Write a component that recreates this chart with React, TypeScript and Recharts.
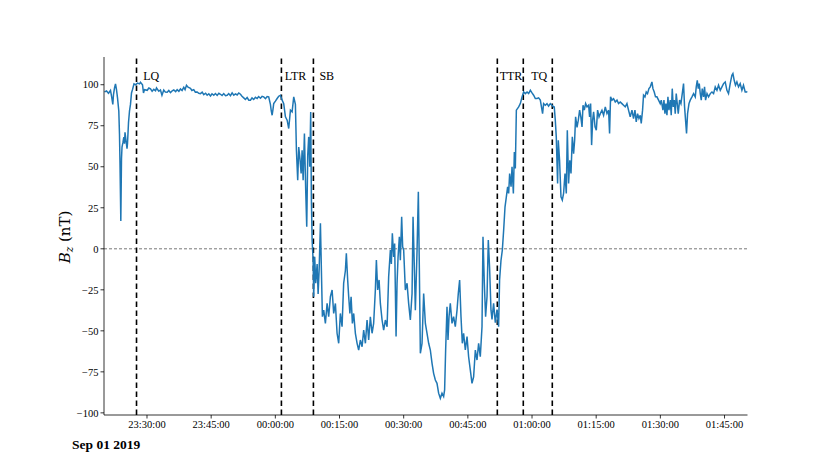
import React from 'react';
import { LineChart, Line, XAxis, YAxis, ReferenceLine, ReferenceDot } from 'recharts';

// time in minutes after 2019-09-01 23:00:00, Bz in nT
const leadInSamples: [number, number][] = [
  [20.07, 95.6], [20.54, 96.2], [21.0, 94.8], [21.47, 96.5], [21.71, 93], [22.01, 88], [22.17, 94], [22.41, 98],
  [22.64, 100.5], [22.87, 97], [23.11, 92], [23.41, 84], [23.57, 70], [23.69, 52], [23.88, 17], [24.04, 55],
  [24.16, 62], [24.39, 65], [24.58, 68], [24.74, 64], [24.86, 71], [25.09, 66], [25.33, 61], [25.44, 64],
  [25.68, 77], [25.91, 84], [26.14, 88], [26.38, 95], [26.61, 97], [26.96, 100.5], [27.31, 100], [27.78, 101],
  [28.25, 100.5], [28.48, 101.5], [28.95, 100], [29.18, 95], [29.42, 97], [30.05, 96.6], [30.44, 98], [30.82, 97.5],
  [31.2, 96], [31.59, 97.2], [32.0, 96.3], [32.22, 98], [32.76, 96], [33.15, 96.8], [33.5, 93.6], [33.92, 96.8],
  [34.3, 95.5], [34.72, 95.4], [35.1, 96.5], [35.49, 95.2], [35.9, 96.3], [36.26, 96.8], [36.7, 95.8], [37.05, 97],
  [37.45, 96], [37.83, 97.4], [38.2, 96.5], [38.6, 98.4], [38.9, 97], [39.23, 99.7], [39.6, 98.5], [40.16, 97.8],
  [40.5, 96.5], [40.93, 97], [41.3, 95.5], [41.73, 95.6], [42.1, 94.8], [42.5, 94.6], [42.9, 95.5], [43.27, 94],
  [43.7, 94.8], [44.06, 93.6], [44.45, 94.5], [44.84, 93.2], [45.2, 94.5], [45.61, 93.6], [46.0, 94.6], [46.4, 93.5],
  [46.8, 94.8], [47.17, 94.2], [47.55, 93.4], [47.94, 94.6], [48.35, 93.3], [48.74, 93.6], [49.1, 94.6], [49.51, 93.3],
  [49.9, 95], [50.28, 93.6], [50.7, 94.4], [51.07, 93.8], [51.45, 95], [51.85, 94.2], [52.2, 93], [52.62, 92],
  [53.0, 91], [53.41, 92.2], [53.8, 90.6], [54.18, 90.6], [54.55, 92], [54.95, 91], [55.35, 92.3], [55.75, 91.6],
  [56.1, 92.8], [56.52, 91.8], [56.9, 92.9], [57.29, 92.6], [57.7, 91.5], [58.08, 92.8], [58.45, 92.6], [58.85, 88],
  [59.05, 84], [59.25, 81.4], [59.45, 85], [59.62, 88.5], [60.02, 90], [60.42, 91.6], [60.79, 93], [61.19, 93.6],
  [61.59, 90.6],
];

const stretchSamples: [number, number][] = [
  [61.96, 88.5], [62.36, 80.4], [62.76, 78.4], [63.13, 73.3], [63.53, 84.5], [63.92, 83.5], [64.3, 92.6], [64.69, 88],
  [64.93, 60], [65.23, 41.8], [65.47, 62], [65.75, 55], [66.03, 45.9], [66.26, 60], [66.5, 41.8], [66.8, 70.3],
  [67.1, 35.7], [67.34, 13.4], [67.57, 57], [67.8, 68.2], [68.04, 50], [68.27, 83.4], [68.43, 29.7], [68.6, 5.3],
  [68.83, -6.9], [68.97, -29.2], [69.2, -4.9], [69.44, -21], [69.77, -9.3], [70.0, -27.6], [70.23, -13.4], [70.54, 15.5],
  [70.77, -13.4], [71.0, -41.4], [71.31, -37.4], [71.7, -45.5], [72.1, -33.3], [72.47, -41.4], [72.87, -29.2], [73.27, -25.1],
  [73.64, -39.4], [74.04, -33.3], [74.43, -51.5], [74.81, -57.6], [75.2, -39.4], [75.6, -47.5], [75.97, -21], [76.37, -13.4],
  [76.6, -2.8], [76.91, -19], [77.15, -29.2], [77.43, -39.4], [77.71, -29.2], [78.01, -45.5], [78.32, -39.4], [78.71, -51.5],
  [79.11, -57.6], [79.48, -61.7], [79.88, -55.6], [80.28, -59.7], [80.65, -49.5], [81.05, -57.6], [81.44, -43.4], [81.82, -55.6],
  [82.21, -41.4], [82.61, -51.5], [82.98, -45.5], [83.38, -25.1], [83.62, -6.9], [83.92, -25.1], [84.25, -19], [84.55, -33.3],
  [84.95, -43.4], [85.32, -49.5], [85.72, -43.4], [86.12, -47.5], [86.49, -17], [86.89, -0.8], [87.12, -9.3], [87.35, 9.4],
  [87.66, -4.9], [87.89, 3.2], [88.22, -53.5], [88.45, -21], [88.69, -4.9], [88.99, 7.3], [89.22, -6.9], [89.53, 19.5],
  [89.76, 1.2], [90.0, -0.8], [90.39, -25.1], [90.79, -21], [91.16, -33.3], [91.56, -43.4], [91.96, -27.2], [92.19, 19.5],
  [92.43, -4.9], [92.73, -37.4], [93.13, -0.8], [93.43, 34.7], [93.66, -11.4], [93.9, -63.7], [94.29, -57.6], [94.67, -27.2],
  [95.07, -45.5], [95.46, -51.5], [95.84, -57.6], [96.23, -61.7], [96.63, -69.8], [97.0, -75.9], [97.4, -80], [97.79, -82],
  [98.17, -88], [98.57, -91.1], [98.96, -88], [99.34, -90], [99.57, -86], [99.81, -61.7], [100.13, -35.3], [100.36, -55.6],
  [100.6, -41.4], [100.9, -33.3], [101.3, -45.5], [101.67, -41.4], [102.07, -47.5], [102.47, -37.4], [102.77, -27.2], [103.08, -19],
  [103.4, -41.4], [103.71, -57.6], [104.01, -51.5], [104.41, -61.7], [104.81, -53.5], [105.18, -65.8], [105.58, -73.9], [105.97, -82],
  [106.35, -78], [106.75, -61.7], [107.14, -67.8], [107.52, -57.6], [107.91, -65.8], [108.31, -47.5], [108.54, 7.3], [108.85, -21],
  [109.15, -41.4], [109.48, -29.2], [109.78, 5.3], [110.08, -11.4], [110.41, -37.4], [110.65, -43], [111.02, -33.3], [111.42, -45],
  [111.82, -37], [112.19, -47.5], [112.42, -19], [112.75, -7], [113.06, -0.8], [113.37, 11.4], [113.69, 25.6], [114.0, 31.7],
  [114.3, 37.8], [114.54, 33.7], [114.77, 45.9], [115.1, 37.8], [115.33, 50], [115.64, 33.7], [115.87, 59], [116.1, 49],
  [116.34, 84.5], [116.88, 86.5], [117.27, 88.5], [117.67, 92.6], [118.04, 95.6], [118.44, 94.6], [118.84, 95.6], [119.21, 94.6],
  [119.61, 96.6], [120.0, 95], [120.38, 93.6], [120.77, 91.6], [121.17, 91.6], [121.54, 92], [121.94, 90.6], [122.47, 82.4],
  [122.71, 88.5], [123.11, 87.5], [123.5, 88.5], [123.87, 87], [124.27, 88.5], [124.67, 87.5], [125.04, 86.5],
];

const recoverySamples: [number, number][] = [
  [125.2, 86.5], [125.44, 78.4], [125.67, 68.2], [125.98, 39.8], [126.14, 66.2], [126.44, 54], [126.77, 31.7], [127.08, 29.7],
  [127.38, 33.7], [127.71, 45.9], [128.01, 33.7], [128.25, 72.3], [128.55, 39.8], [128.83, 54], [129.11, 45.9], [129.42, 68.2],
  [129.72, 58], [129.96, 66], [130.19, 80.4], [130.52, 74], [130.82, 78.4], [131.13, 84.5], [131.41, 80.4], [131.69, 74.3],
  [131.92, 87.5], [132.22, 84.5], [132.53, 88.5], [132.86, 86.5], [133.23, 87.5], [133.46, 80.4], [133.7, 88.5], [133.93, 63.2],
  [134.17, 78.4], [134.4, 83.5], [134.73, 74.3], [135.03, 72.3], [135.33, 84.5], [135.66, 80.4], [135.96, 82.4], [136.35, 84.5],
  [136.73, 81.4], [137.13, 86.5], [137.52, 82.4], [137.9, 84.5], [138.13, 70.3], [138.36, 92.6], [138.69, 90.6], [139.06, 91.5],
  [139.46, 89.5], [139.86, 90.6], [140.23, 88.5], [140.63, 89.5], [141.02, 88.5], [141.4, 87.5], [141.79, 86.5], [142.19, 88.5],
  [142.56, 84.5], [142.96, 80.4], [143.36, 84.5], [143.73, 79.4], [144.06, 84.5], [144.36, 77.4], [144.67, 82.4], [144.99, 79.4],
  [145.3, 81.4], [145.53, 76.4], [145.84, 84.5], [146.07, 93.6], [146.4, 92.6], [146.7, 95.6], [147.0, 94.6], [147.33, 97.6],
  [147.64, 98.7], [148.03, 101.7], [148.27, 97.6], [148.57, 95.6], [148.87, 92.6], [149.2, 92.6], [149.58, 90.6], [149.97, 88.5],
  [150.21, 90.6], [150.6, 84.5], [150.84, 90.6], [151.07, 82.4], [151.3, 88.5], [151.54, 81.4], [151.77, 92.6], [152.01, 84.5],
  [152.31, 90.6], [152.54, 81.4], [152.78, 97.6], [153.01, 86.5], [153.25, 90.6], [153.48, 82.4], [153.71, 94.6], [153.95, 88.5],
  [154.18, 82.4], [154.49, 90.6], [154.81, 88.5], [155.12, 94.6], [155.42, 100.7], [155.66, 86.5], [155.89, 78.4], [156.12, 70.3],
  [156.36, 82.4], [156.69, 88.5], [156.99, 90.6], [157.39, 92.6], [157.76, 94.6], [158.16, 92.6], [158.39, 98.7], [158.63, 102.7],
  [158.86, 97.6], [159.09, 100.7], [159.33, 94.6], [159.56, 90.6], [159.79, 97.6], [160.1, 92.6], [160.33, 98.7], [160.57, 90.6],
  [160.9, 94.6], [161.27, 92.6], [161.67, 94.6], [162.06, 95.6], [162.44, 94.6], [162.83, 98.7], [163.23, 96.6], [163.6, 99.7],
  [164.0, 96.6], [164.4, 98.7], [164.77, 100.7], [165.16, 101.7], [165.56, 96.6], [165.93, 94.6], [166.33, 100.7], [166.72, 105.8],
  [166.96, 106.8], [167.26, 102.7], [167.56, 99.7], [167.89, 101.7], [168.27, 98.7], [168.66, 100.7], [169.06, 96.6], [169.43, 99.7],
  [169.83, 95.6], [170.23, 95.6], [170.37, 96],
];

const eventLineTimes = [27.55, 61.42, 68.9, 111.89, 117.96, 124.74];
const eventLabels = ['LQ', 'LTR', 'SB', 'TTR', 'TQ'];
const eventLabelTimes = [29.11, 62.19, 70.3, 112.43, 119.83];
const eventLabelLevel = 102.7;

const xTicks = [30, 45, 60, 75, 90, 105, 120, 135, 150, 165];
const yTicks = [-100, -75, -50, -25, 0, 25, 50, 75, 100];
const xDomain: [number, number] = [19.95, 170.37];
const yDomain: [number, number] = [-101.3, 116.9];
const dateLabel = 'Sep 01 2019';

const data = [...leadInSamples, ...stretchSamples, ...recoverySamples].map(([t, v]) => ({ t, bz: v }));

const pad = (n: number) => (n < 10 ? '0' + n : '' + n);
const fmtTime = (m: number) => {
  let s = Math.round((23 * 60 + m) * 60);
  s = ((s % 86400) + 86400) % 86400;
  return `${pad(Math.floor(s / 3600))}:${pad(Math.floor((s % 3600) / 60))}:${pad(s % 60)}`;
};
const fmtY = (v: number) => (v < 0 ? '\u2212' + Math.abs(v) : '' + v);

const tickFont = { fontFamily: 'Liberation Serif', fontSize: 10.5, fill: '#000' };

export default function App() {
  return (
    <div style={{ position: 'absolute', left: 0, top: 0, width: 830, height: 475, background: '#fff' }}>
      <LineChart width={830} height={475} data={data} margin={{ top: 57, right: 82.5, bottom: 30, left: 44 }}>
        <XAxis
          dataKey="t"
          type="number"
          domain={xDomain}
          ticks={xTicks}
          tickFormatter={fmtTime}
          allowDataOverflow
          height={30}
          tick={tickFont}
          tickSize={3.5}
          tickLine={{ stroke: '#000', strokeWidth: 0.8 }}
          axisLine={{ stroke: '#000', strokeWidth: 0.8 }}
        />
        <XAxis
          xAxisId="top"
          orientation="top"
          type="number"
          domain={xDomain}
          height={0}
          tick={false}
          tickLine={false}
          axisLine={{ stroke: '#000', strokeWidth: 0.8 }}
        />
        <YAxis
          type="number"
          domain={yDomain}
          ticks={yTicks}
          tickFormatter={fmtY}
          allowDataOverflow
          width={60}
          tick={tickFont}
          tickSize={3.5}
          tickLine={{ stroke: '#000', strokeWidth: 0.8 }}
          axisLine={{ stroke: '#000', strokeWidth: 0.8 }}
        />
        <YAxis
          yAxisId="right"
          orientation="right"
          type="number"
          domain={yDomain}
          width={0}
          tick={false}
          tickLine={false}
          axisLine={{ stroke: '#000', strokeWidth: 0.8 }}
        />
        <ReferenceLine y={0} stroke="#555" strokeWidth={0.8} strokeDasharray="3 2" />
        {eventLineTimes.map((t, i) => (
          <ReferenceLine key={'ev' + i} x={t} stroke="#000" strokeWidth={1.6} strokeDasharray="5.5 3.5" />
        ))}
        <Line
          type="linear"
          dataKey="bz"
          stroke="#1f77b4"
          strokeWidth={1.5}
          dot={false}
          isAnimationActive={false}
        />
        {eventLabels.map((name, i) => (
          <ReferenceDot
            key={'lb' + i}
            x={eventLabelTimes[i]}
            y={eventLabelLevel}
            r={0}
            fill="none"
            stroke="none"
            label={(p: any) => (
              <text
                x={p.viewBox.x}
                y={p.viewBox.y}
                textAnchor="start"
                fontFamily="Liberation Serif"
                fontSize={12}
                fill="#000"
              >
                {name}
              </text>
            )}
          />
        ))}
      </LineChart>
      <svg width={830} height={475} style={{ position: 'absolute', left: 0, top: 0, pointerEvents: 'none' }}>
        <text transform="translate(70,237) rotate(-90)" textAnchor="middle" fontFamily="DejaVu Serif" fontSize={15} fill="#000">
          <tspan fontStyle="italic">B</tspan>
          <tspan fontStyle="italic" fontSize={10.5} dy={3}>z</tspan>
          <tspan dy={-3}>{' (nT)'}</tspan>
        </text>
        <text x={72} y={449} fontFamily="Liberation Serif" fontWeight="bold" fontSize={13.5} fill="#000">
          {dateLabel}
        </text>
      </svg>
    </div>
  );
}
